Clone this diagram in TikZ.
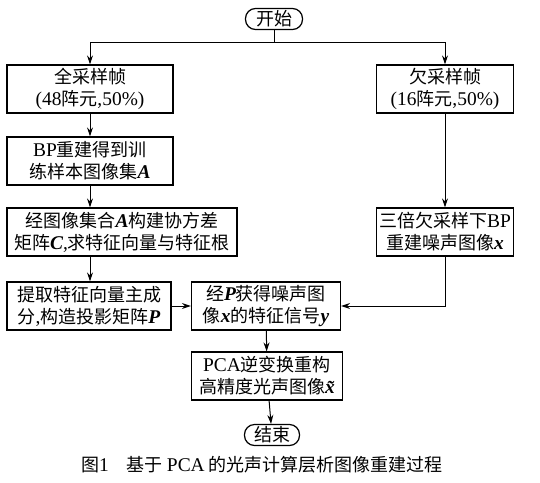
\documentclass[tikz,border=0pt]{standalone}
\usepackage{fontspec}
\setmainfont{Noto Sans CJK SC}
\newfontfamily\lat[Scale=1.08]{Liberation Serif}
\usetikzlibrary{arrows.meta}

\newcommand{\bv}[1]{{\lat\bfseries\itshape #1}}
\newcommand{\rmlat}[1]{{\lat #1}}

\tikzset{
    proc/.style={draw, line width=1.2pt, minimum height=48pt, align=center,
        inner xsep=2pt, font=\fontsize{18}{22}\selectfont},
    term/.style={draw, line width=1.2pt, rounded corners=10pt, minimum height=21pt,
        inner xsep=5pt, inner ysep=0pt, font=\fontsize{18}{22}\selectfont},
    flow/.style={line width=1pt, -{Stealth[length=9pt,width=6pt]}}
}

\begin{document}
\begin{tikzpicture}[x=1pt,y=-1pt]

\fill[white] (0,0) rectangle (540,482);
\useasboundingbox (0,0) rectangle (540,482);

\node[term, minimum width=57pt] (start) at (274,19) {开始};

\node[proc, minimum width=166pt] (full) at (90,89)
{全采样帧\\\rmlat{(48}阵元\rmlat{,50\%)}};
\node[proc, minimum width=137pt] (under) at (445,89)
{欠采样帧\\\rmlat{(16}阵元\rmlat{,50\%)}};

\node[proc, minimum width=166pt] (bp) at (90,161)
{\rmlat{BP}重建得到训\\练样本图像集\bv{A}};

\node[proc, minimum width=230pt] (cov) at (122,232)
{经图像集合\bv{A}构建协方差\\矩阵\bv{C}\rmlat{,}求特征向量与特征根};
\node[proc, minimum width=137pt] (noisy) at (445,232)
{三倍欠采样下\rmlat{BP}\\重建噪声图像\bv{x}};

\node[proc, minimum width=164pt] (proj) at (89,306)
{提取特征向量主成\\分\rmlat{,}构造投影矩阵\bv{P}};
\node[proc, minimum width=149pt] (feat) at (266,306)
{经\bv{P}获得噪声图\\像\bv{x}的特征信号\bv{y}};

\node[proc, minimum width=151pt] (pca) at (267,376)
{\rmlat{PCA}逆变换重构\\高精度光声图像\bv{\~x}};

\node[term, minimum width=55pt] (end) at (272,435) {结束};

\node[font=\fontsize{18}{21}\selectfont] (cap) at (262,465)
{图\rmlat{1}\quad 基于 \rmlat{PCA} 的光声计算层析图像重建过程};

% connectors
\coordinate (split) at (274,42);
\draw[line width=1pt] (start) -- (split);
\draw[flow] (split) -| (full);
\draw[flow] (split) -| (under);
\draw[flow] (full) -- (bp);
\draw[flow] (bp.south) -- (bp.south |- cov.north);
\draw[flow] (bp.south |- cov.south) -- (bp.south |- proj.north);
\draw[flow] (under) -- (noisy);
\draw[flow] (proj) -- (feat);
\draw[flow] (noisy.south) |- (feat.east);
\draw[flow] (feat) -- (pca);
\draw[flow] (pca) -- (end);

\end{tikzpicture}
\end{document}
